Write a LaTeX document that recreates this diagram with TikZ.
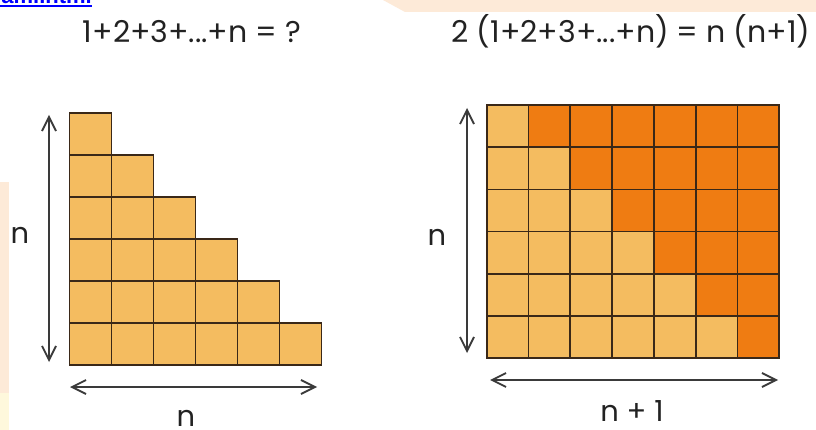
\documentclass[tikz,border=0pt]{standalone}
\usepackage{fontspec}
\setmainfont{Poppins}
\newfontfamily\linkfont{Liberation Sans}
\usetikzlibrary{arrows.meta}
\definecolor{lightor}{HTML}{F4BC60}
\definecolor{darkor}{HTML}{EF7C12}
\definecolor{gridln}{HTML}{3A2818}
\definecolor{arrowc}{HTML}{3A3A3A}
\definecolor{wmor}{HTML}{FDEAD8}
\definecolor{wmye}{HTML}{FEF8DC}
\definecolor{txt}{HTML}{222222}
\begin{document}
\begin{tikzpicture}[x=1pt,y=-1pt,
  cell/.style={draw=gridln,line width=1.7pt},
  tipb/.tip={Straight Barb[length=14pt,width=14pt,line width=1.8pt]},
  dim/.style={draw=arrowc,line width=1.6pt,tipb-tipb},
  lbl/.style={font=\fontsize{30}{32}\selectfont,text=txt,inner sep=0pt},
  lbls/.style={font=\fontsize{29}{31}\selectfont,text=txt,inner sep=0pt}]
\useasboundingbox (0,0) rectangle (816,430);
\fill[white] (0,0) rectangle (816,430);
% faint watermark areas
\fill[wmor] (383,0) -- (816,0) -- (816,12) -- (405,12) -- cycle;
\fill[wmor] (0,182) rectangle (8.5,393);
\fill[wmye] (0,393) rectangle (8.5,430);
% cut-off link
\begin{scope}
\clip (0,0) rectangle (816,430);
\node[anchor=base east,text=blue,font=\linkfont\bfseries\fontsize{22}{22}\selectfont,inner sep=0pt] (link) at (92,3.5) {olami.html};
\draw[blue,line width=2pt] (0,6) -- (92,6);
\end{scope}
% titles
\node[lbl,anchor=base] (tl) at (192,43) {1+2+3+...+n = ?};
\node[lbl,anchor=base] (tr) at (631,43) {2 (1+2+3+...+n) = n (n+1)};
% left staircase
\foreach \r in {1,...,6}{
  \foreach \c in {1,...,\r}{
    \path[cell,fill=lightor] ({69.5+42*(\c-1)},{113+42*(\r-1)}) rectangle ++(42,42);
  }
}
% right rectangle
\foreach \r in {1,...,6}{
  \foreach \c in {1,...,7}{
    \ifnum\c>\r \def\fc{darkor}\else\def\fc{lightor}\fi
    \path[cell,fill=\fc] ({486.7+41.8*(\c-1)},{105+42.2*(\r-1)}) rectangle ++(41.8,42.2);
  }
}
% dimension arrows
\coordinate (lvT) at (49,115);
\coordinate (lvB) at (49,362);
\coordinate (lhL) at (70,387);
\coordinate (lhR) at (317,387);
\coordinate (rvT) at (467,108);
\coordinate (rvB) at (467,353);
\coordinate (rhL) at (490,380);
\coordinate (rhR) at (778,380);
\draw[dim] (lvT) -- (lvB);
\draw[dim] (lhL) -- (lhR);
\draw[dim] (rvT) -- (rvB);
\draw[dim] (rhL) -- (rhR);
% labels
\node[lbls] (nl) at (20,235) {n};
\node[lbls] (nb) at (186,418) {n};
\node[lbls] (nr) at (437,237) {n};
\node[lbls,anchor=base] (n1) at (632,421) {n + 1};
\end{tikzpicture}
\end{document}
